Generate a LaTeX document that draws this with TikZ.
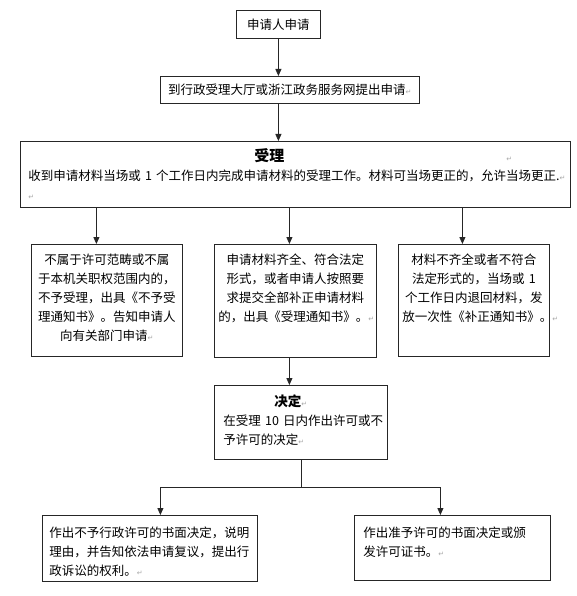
\documentclass[tikz,border=0pt]{standalone}
\usepackage{fontspec}
\setmainfont{Noto Sans CJK SC}
\newfontfamily\retfont{DejaVu Sans}
\usepackage{xcolor}
\usetikzlibrary{arrows.meta,calc}
\definecolor{edge}{HTML}{262626}
\definecolor{retgray}{HTML}{A8A8A8}
\newcommand{\retmark}{{\retfont\fontsize{7}{7}\selectfont\textcolor{retgray}{↵}}}
\newcommand{\headfont}{\bfseries\fontsize{15}{19}\selectfont}

\begin{document}
\begin{tikzpicture}[
  x=1pt, y=-1pt,
  font=\fontsize{12.5}{19}\selectfont,
  box/.style={draw=edge, line width=0.8pt, anchor=north west, inner sep=0pt},
  card/.style={box, inner xsep=4pt, inner ysep=4pt, text height=16pt, align=center},
  ar/.style={-{Triangle[length=7pt,width=6pt]}, draw=edge, line width=0.8pt}
]
\fill[white] (0,0) rectangle (577,596);
\useasboundingbox (0,0) rectangle (577,596);

\node[box, minimum width=84pt, minimum height=28pt] (apply) at (236,10) {申请人申请};
\node[box, minimum width=259pt, minimum height=27pt] (submit) at (160,76)
  {到行政受理大厅或浙江政务服务网提出申请\retmark};
\node[box, inner xsep=8pt, inner ysep=4pt, text width=534pt, text height=16pt, text depth=42pt, align=left] (accept) at (20,141)
  {\hspace*{226pt}{\headfont 受理}\hspace*{222pt}\retmark\\
   收到申请材料当场或~1~个工作日内完成申请材料的受理工作。材料可当场更正的，允许当场更正.\retmark\\
   \retmark};

% three outcomes of the check
\node[card, text width=143pt, text depth=88pt] (reject) at (31,244)
  {不属于许可范畴或不属\\于本机关职权范围内的，\\不予受理，出具《不予受\\理通知书》。告知申请人\\向有关部门申请\retmark};
\node[card, text width=154pt, text depth=89pt] (complete) at (214,244)
  {申请材料齐全、符合法定\\形式，或者申请人按照要\\求提交全部补正申请材料\\的，出具《受理通知书》。\retmark};
\node[card, text width=143pt, text depth=88pt] (incomplete) at (398,244)
  {材料不齐全或者不符合\\法定形式的，当场或~1\\个工作日内退回材料，发\\放一次性《补正通知书》。\retmark};

\node[box, inner xsep=9pt, inner ysep=4pt, text width=155pt, text height=17pt, text depth=49pt, align=left] (decide) at (214,385)
  {\hspace*{51pt}{\bfseries\fontsize{13.5}{19}\selectfont 决定}\retmark\\
   在受理~10~日内作出许可或不\\予许可的决定\retmark};

% final decisions
\node[box, inner xsep=7pt, inner ysep=4pt, text width=201pt, text height=18pt, text depth=40pt, align=left] (deny) at (42,515)
  {作出不予行政许可的书面决定，说明\\理由，并告知依法申请复议，提出行\\政诉讼的权利。\retmark};
\node[box, inner xsep=9pt, inner ysep=4pt, text width=178pt, text height=18pt, text depth=39pt, align=left] (grant) at (354,515)
  {作出准予许可的书面决定或颁\\发许可证书。\retmark};

\coordinate (rejectin) at ([xshift=-10.5pt]reject.north);
\coordinate (completein) at ([xshift=-6pt]complete.north);
\coordinate (incompletein) at ([xshift=-11.5pt]incomplete.north);
\coordinate (fork) at ($(decide.south)+(0,28)$);
\coordinate (denyin) at ([xshift=10.5pt]deny.north);
\coordinate (grantin) at ([xshift=-12pt]grant.north);

\draw[ar] (apply.south) -- (apply.south |- submit.north);
\draw[ar] (apply.south |- submit.south) -- (apply.south |- accept.north);
\draw[ar] (rejectin |- accept.south) -- (rejectin);
\draw[ar] (completein |- accept.south) -- (completein);
\draw[ar] (incompletein |- accept.south) -- (incompletein);
\draw[ar] (completein |- complete.south) -- (completein |- decide.north);
\draw[draw=edge, line width=0.8pt] (decide.south) -- (fork);
\draw[ar] (fork) -| (denyin);
\draw[ar] (fork) -| (grantin);
\end{tikzpicture}
\end{document}
